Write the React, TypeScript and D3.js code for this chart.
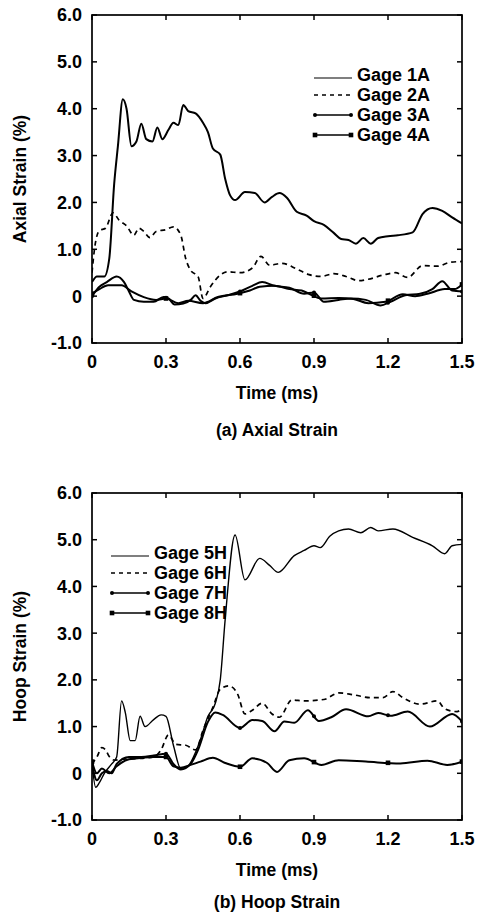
import * as d3 from "d3";

type Pt = [number, number];

const timeTicks = [0, 0.3, 0.6, 0.9, 1.2, 1.5];
const timeTickLabels = ["0", "0.3", "0.6", "0.9", "1.2", "1.5"];
const strainTicks = [-1, 0, 1, 2, 3, 4, 5, 6];
const strainTickLabels = ["-1.0", "0", "1.0", "2.0", "3.0", "4.0", "5.0", "6.0"];
const markerTimes = [0, 0.3, 0.6, 0.9, 1.2, 1.5];

const axialNames = ["Gage 1A", "Gage 2A", "Gage 3A", "Gage 4A"];
const hoopNames = ["Gage 5H", "Gage 6H", "Gage 7H", "Gage 8H"];

const gage1A: Pt[] = [
  [0, 0.3], [0.02, 0.42], [0.05, 0.42], [0.07, 0.8], [0.09, 2.4], [0.105, 3.2], [0.125, 4.2],
  [0.14, 4.0], [0.16, 3.2], [0.18, 3.3], [0.2, 3.68], [0.22, 3.35], [0.245, 3.3], [0.265, 3.6],
  [0.285, 3.35], [0.31, 3.55], [0.33, 3.7], [0.35, 3.65], [0.37, 4.08], [0.39, 3.95], [0.42, 3.9],
  [0.45, 3.7], [0.47, 3.5], [0.49, 3.15], [0.52, 3.02], [0.54, 2.5], [0.56, 2.15], [0.58, 2.05],
  [0.62, 2.22], [0.66, 2.2], [0.7, 2.0], [0.73, 2.12], [0.76, 2.2], [0.79, 2.1], [0.83, 1.8],
  [0.87, 1.72], [0.9, 1.6], [0.94, 1.52], [0.98, 1.35], [1.01, 1.22], [1.04, 1.2], [1.07, 1.12],
  [1.1, 1.24], [1.13, 1.12], [1.16, 1.24], [1.2, 1.28], [1.24, 1.3], [1.3, 1.36], [1.34, 1.75],
  [1.38, 1.88], [1.42, 1.82], [1.46, 1.68], [1.5, 1.55],
];
const gage2A: Pt[] = [
  [0, 0.5], [0.01, 1.0], [0.03, 1.4], [0.055, 1.45], [0.085, 1.78], [0.11, 1.62], [0.14, 1.5],
  [0.17, 1.3], [0.19, 1.45], [0.21, 1.38], [0.235, 1.25], [0.26, 1.38], [0.3, 1.42], [0.33, 1.48],
  [0.36, 1.3], [0.38, 0.8], [0.4, 0.55], [0.43, 0.42], [0.45, -0.05], [0.48, 0.2], [0.52, 0.45],
  [0.55, 0.52], [0.6, 0.5], [0.65, 0.6], [0.685, 0.85], [0.72, 0.66], [0.77, 0.7], [0.83, 0.58],
  [0.88, 0.46], [0.93, 0.42], [0.98, 0.48], [1.03, 0.42], [1.08, 0.33], [1.12, 0.36], [1.18, 0.45],
  [1.23, 0.5], [1.28, 0.4], [1.34, 0.65], [1.4, 0.64], [1.45, 0.72], [1.5, 0.74],
];
const gage3A: Pt[] = [
  [0, 0.0], [0.03, 0.2], [0.06, 0.3], [0.1, 0.42], [0.13, 0.3], [0.15, 0.1], [0.17, -0.08],
  [0.21, -0.12], [0.25, -0.12], [0.29, -0.02], [0.31, -0.05], [0.335, -0.18], [0.37, -0.16],
  [0.4, -0.08], [0.42, 0.02], [0.44, -0.1], [0.46, -0.15], [0.5, -0.05], [0.55, 0.02], [0.6, 0.1],
  [0.65, 0.22], [0.69, 0.3], [0.74, 0.22], [0.8, 0.18], [0.86, 0.05], [0.9, 0.08], [0.94, -0.12],
  [1.0, -0.08], [1.05, -0.05], [1.11, -0.08], [1.17, -0.2], [1.21, -0.12], [1.27, 0.02],
  [1.33, 0.05], [1.38, 0.15], [1.42, 0.32], [1.46, 0.12], [1.5, 0.1],
];
const gage4A: Pt[] = [
  [0, 0.05], [0.03, 0.15], [0.065, 0.23], [0.12, 0.23], [0.16, 0.1], [0.21, -0.02], [0.26, -0.08],
  [0.3, -0.05], [0.35, -0.15], [0.39, -0.1], [0.45, -0.15], [0.51, -0.02], [0.59, 0.05],
  [0.64, 0.12], [0.68, 0.2], [0.74, 0.22], [0.8, 0.15], [0.85, 0.12], [0.88, 0.05], [0.93, -0.05],
  [1.0, -0.04], [1.06, -0.06], [1.12, -0.15], [1.19, -0.12], [1.26, 0.04], [1.31, 0.0],
  [1.36, 0.05], [1.43, 0.15], [1.47, 0.15], [1.5, 0.25],
];

const gage5H: Pt[] = [
  [0, 0.2], [0.015, -0.3], [0.03, -0.2], [0.05, 0.0], [0.08, 0.2], [0.1, 0.35], [0.12, 1.55],
  [0.135, 1.3], [0.155, 0.7], [0.175, 0.7], [0.195, 1.22], [0.215, 1.0], [0.25, 1.15], [0.28, 1.25],
  [0.3, 1.22], [0.33, 0.6], [0.36, 0.1], [0.39, 0.16], [0.42, 0.45], [0.44, 0.73], [0.47, 1.22],
  [0.5, 1.5], [0.52, 2.0], [0.54, 3.3], [0.58, 5.1], [0.62, 4.14], [0.68, 4.6], [0.72, 4.45],
  [0.755, 4.3], [0.82, 4.66], [0.86, 4.77], [0.9, 4.87], [0.925, 4.83], [0.965, 5.08], [1.0, 5.19],
  [1.04, 5.23], [1.09, 5.15], [1.13, 5.26], [1.16, 5.19], [1.22, 5.23], [1.3, 5.05], [1.38, 4.87],
  [1.43, 4.7], [1.46, 4.87], [1.5, 4.9],
];
const gage6H: Pt[] = [
  [0, 0.2], [0.02, 0.35], [0.04, 0.55], [0.055, 0.5], [0.07, 0.36], [0.09, 0.28], [0.12, 0.3],
  [0.2, 0.32], [0.25, 0.35], [0.28, 0.5], [0.31, 0.82], [0.34, 0.62], [0.38, 0.6], [0.42, 0.5],
  [0.45, 0.92], [0.49, 1.41], [0.52, 1.8], [0.555, 1.87], [0.59, 1.7], [0.62, 1.27], [0.65, 1.35],
  [0.69, 1.5], [0.73, 1.27], [0.76, 1.2], [0.81, 1.57], [0.86, 1.55], [0.94, 1.58], [1.0, 1.72],
  [1.06, 1.68], [1.13, 1.62], [1.18, 1.62], [1.22, 1.75], [1.26, 1.62], [1.33, 1.48], [1.4, 1.55],
  [1.43, 1.38], [1.48, 1.32], [1.5, 1.4],
];
const gage7H: Pt[] = [
  [0, 0.2], [0.02, -0.15], [0.04, 0.0], [0.06, 0.05], [0.08, 0.0], [0.1, 0.2], [0.15, 0.35],
  [0.2, 0.35], [0.25, 0.38], [0.3, 0.42], [0.33, 0.2], [0.36, 0.08], [0.4, 0.2], [0.43, 0.5],
  [0.47, 1.1], [0.5, 1.3], [0.53, 1.25], [0.6, 0.97], [0.65, 1.14], [0.69, 1.12], [0.74, 0.9],
  [0.78, 1.11], [0.82, 1.08], [0.875, 1.35], [0.92, 1.12], [0.97, 1.2], [1.03, 1.37], [1.12, 1.22],
  [1.16, 1.29], [1.21, 1.23], [1.28, 1.32], [1.37, 1.0], [1.46, 1.27], [1.5, 1.11],
];
const gage8H: Pt[] = [
  [0, 0.25], [0.02, 0.0], [0.04, 0.1], [0.07, 0.0], [0.1, 0.15], [0.15, 0.3], [0.2, 0.33],
  [0.25, 0.35], [0.3, 0.35], [0.33, 0.15], [0.36, 0.12], [0.4, 0.18], [0.44, 0.25], [0.49, 0.33],
  [0.54, 0.22], [0.6, 0.14], [0.65, 0.32], [0.71, 0.22], [0.75, 0.03], [0.8, 0.28], [0.86, 0.32],
  [0.93, 0.18], [1.0, 0.28], [1.11, 0.25], [1.25, 0.21], [1.36, 0.27], [1.44, 0.18], [1.5, 0.25],
];

const FONT = "'Liberation Sans', Arial, Helvetica, sans-serif";
const W = 479;
const H = 917;
const left = 92;
const right = 462;

type Style = "solid" | "dash" | "dot" | "square";
const styles: Style[] = ["solid", "dash", "dot", "square"];

function interp(data: Pt[], t: number) {
  for (let i = 1; i < data.length; i++) {
    const [t0, v0] = data[i - 1];
    const [t1, v1] = data[i];
    if (t <= t1) return v0 + ((t - t0) / (t1 - t0)) * (v1 - v0);
  }
  return data[data.length - 1][1];
}

function Marker({ kind, x, y }: { kind: Style; x: number; y: number }) {
  if (kind === "dot") return <circle cx={x} cy={y} r={2} fill="#000" />;
  if (kind === "square") return <rect x={x - 2.3} y={y - 2.3} width={4.6} height={4.6} fill="#000" />;
  return null;
}

function Panel(props: {
  top: number;
  bottom: number;
  series: Pt[][];
  names: string[];
  yTitle: string;
  caption: string;
  captionGap: number;
  legendX: number;
  legendY: number;
  thinFirst: boolean;
}) {
  const { top, bottom, series, names, yTitle, caption, captionGap, legendX, legendY, thinFirst } = props;
  const x = d3.scaleLinear().domain([0, 1.5]).range([left, right]);
  const y = d3.scaleLinear().domain([-1, 6]).range([bottom, top]);
  const line = d3
    .line<Pt>()
    .x((d) => x(d[0]))
    .y((d) => y(d[1]))
    .curve(d3.curveMonotoneX);
  const tick = 5;
  const midY = (top + bottom) / 2;

  return (
    <g>
      <defs>
        <clipPath id={`clip-${top}`}>
          <rect x={left} y={top} width={right - left} height={bottom - top} />
        </clipPath>
      </defs>
      <g clipPath={`url(#clip-${top})`}>
        {series.map((s, i) => (
          <path
            key={i}
            d={line(s) || ""}
            fill="none"
            stroke="#000"
            strokeWidth={i === 0 && thinFirst ? 1.4 : styles[i] === "dash" ? 1.7 : 2}
            strokeDasharray={styles[i] === "dash" ? "5,4" : undefined}
            strokeLinejoin="round"
          />
        ))}
        {series.map((s, i) =>
          styles[i] === "dot" || styles[i] === "square"
            ? markerTimes.map((t) => (
                <Marker key={`${i}-${t}`} kind={styles[i]} x={x(t)} y={y(interp(s, t))} />
              ))
            : null
        )}
      </g>
      {/* frame */}
      <rect x={left} y={top} width={right - left} height={bottom - top} fill="none" stroke="#000" strokeWidth={1.7} />
      {timeTicks.map((t) => (
        <g key={t}>
          <line x1={x(t)} x2={x(t)} y1={bottom} y2={bottom - tick} stroke="#000" strokeWidth={1.5} />
          <line x1={x(t)} x2={x(t)} y1={top} y2={top + tick} stroke="#000" strokeWidth={1.5} />
        </g>
      ))}
      {strainTicks.map((v) => (
        <g key={v}>
          <line x1={left} x2={left + tick} y1={y(v)} y2={y(v)} stroke="#000" strokeWidth={1.5} />
          <line x1={right} x2={right - tick} y1={y(v)} y2={y(v)} stroke="#000" strokeWidth={1.5} />
        </g>
      ))}
      <g fontFamily={FONT} fontWeight="bold" fontSize={18} fill="#000">
        {strainTicks.map((v, i) => (
          <text key={v} x={82} y={y(v)} dy="0.36em" textAnchor="end">
            {strainTickLabels[i]}
          </text>
        ))}
        {timeTicks.map((t, i) => (
          <text key={t} x={x(t)} y={bottom + 25} textAnchor="middle">
            {timeTickLabels[i]}
          </text>
        ))}
        <text x={(left + right) / 2} y={bottom + 56} textAnchor="middle" fontSize={17.5}>
          Time (ms)
        </text>
        <text x={(left + right) / 2} y={bottom + captionGap} textAnchor="middle" fontSize={17.5}>
          {caption}
        </text>
        <text transform={`translate(26,${midY}) rotate(-90)`} textAnchor="middle" fontSize={17.5}>
          {yTitle}
        </text>
      </g>
      {/* legend */}
      <g fontFamily={FONT} fontWeight="bold" fontSize={18}>
        {names.map((n, i) => {
          const ly = legendY + i * 20;
          const kind = styles[i];
          const lineY = i === 0 ? ly + 3 : ly;
          return (
            <g key={n}>
              <line
                x1={legendX}
                x2={legendX + 38}
                y1={lineY}
                y2={lineY}
                stroke="#000"
                strokeWidth={i === 0 ? 1.2 : 1.6}
                strokeDasharray={kind === "dash" ? "4,4" : undefined}
              />
              <Marker kind={kind} x={legendX + 1} y={lineY} />
              <Marker kind={kind} x={legendX + 37} y={lineY} />
              <text x={legendX + 43} y={ly} dy="0.36em">
                {n}
              </text>
            </g>
          );
        })}
      </g>
    </g>
  );
}

export default function App() {
  return (
    <svg
      width={W}
      height={H}
      viewBox={`0 0 ${W} ${H}`}
      style={{ position: "absolute", left: 0, top: 0, background: "#fff" }}
    >
      <rect width={W} height={H} fill="#fff" />
      <Panel
        top={15}
        bottom={343}
        series={[gage1A, gage2A, gage3A, gage4A]}
        names={axialNames}
        yTitle="Axial Strain (%)"
        caption="(a) Axial Strain"
        captionGap={93}
        legendX={314}
        legendY={75}
        thinFirst={false}
      />
      <Panel
        top={493}
        bottom={820}
        series={[gage5H, gage6H, gage7H, gage8H]}
        names={hoopNames}
        yTitle="Hoop Strain (%)"
        caption="(b) Hoop Strain"
        captionGap={88}
        legendX={111}
        legendY={553}
        thinFirst={true}
      />
    </svg>
  );
}
